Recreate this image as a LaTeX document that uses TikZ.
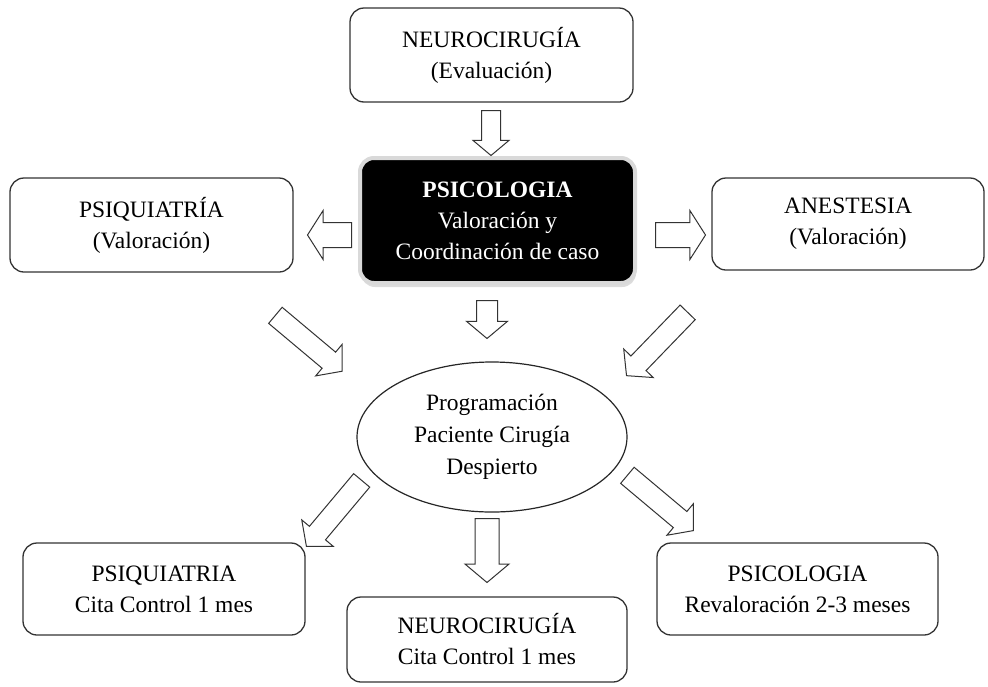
\documentclass[tikz,border=0pt]{standalone}
\usepackage{fontspec}
\setmainfont{Liberation Serif}
\usepackage{tikz}
\usetikzlibrary{shapes,shapes.arrows,shadows}
\tikzstyle{caja}=[rectangle, draw=black!80, line width=1.3pt, rounded corners=14pt, fill=white,
text centered, align=center, inner sep=0pt, font=\fontsize{23.5}{31}\selectfont]
\tikzstyle{central}=[caja, fill=black, draw=gray!30, line width=4pt, text=white,
drop shadow={shadow xshift=1pt, shadow yshift=-4pt, fill=gray!55}]
\tikzstyle{programa}=[ellipse, draw=black!85, line width=1.2pt, fill=white, align=center,
inner sep=0pt, font=\fontsize{23.5}{32}\selectfont]
\tikzstyle{flecha}=[single arrow, draw=black!80, fill=white, line width=1pt, anchor=tail,
inner xsep=0pt, inner ysep=10pt, single arrow head extend=10pt, single arrow tip angle=100]

\begin{document}
\begin{tikzpicture}[x=1pt, y=-1pt]
            \useasboundingbox (0,0) rectangle (988,686);
            % cajas
            \node (neuro)[caja, minimum width=283pt, minimum height=94pt] at (491.5,55)
                {NEUROCIRUGÍA\\(Evaluación)};
            \node (psico)[central, minimum width=275pt, minimum height=125pt] at (497.5,220.5)
                {\textbf{PSICOLOGIA}\\Valoración y\\Coordinación de caso};
            \node (psiq)[caja, minimum width=283pt, minimum height=94pt] at (151.5,225)
                {PSIQUIATRÍA\\(Valoración)};
            \node (anest)[caja, minimum width=272pt, minimum height=92pt] at (848,224)
                {ANESTESIA\\(Valoración)};
            \node (prog)[programa, minimum width=270pt, minimum height=150pt] at (492,437)
                {Programación\\Paciente Cirugía\\Despierto};
            \node (psiqcita)[caja, minimum width=282pt, minimum height=92pt] at (164,589)
                {PSIQUIATRIA\\Cita Control 1 mes};
            \node (neurocita)[caja, minimum width=280pt, minimum height=85pt] at (487,639.5)
                {NEUROCIRUGÍA\\Cita Control 1 mes};
            \node (psicoreval)[caja, minimum width=281pt, minimum height=92pt] at (797.5,589)
                {PSICOLOGIA\\Revaloración 2-3 meses};
            % flechas
            \node (f1)[flecha, rotate=-90, minimum height=45pt, inner ysep=9pt,
                single arrow head extend=8.5pt] at (491,110) {};
            \node (f2)[flecha, rotate=180, minimum height=44pt, inner ysep=12pt,
                single arrow head extend=12pt, single arrow tip angle=115] at (352,235) {};
            \node (f3)[flecha, minimum height=50pt, inner ysep=12pt,
                single arrow head extend=12pt, single arrow tip angle=115] at (655,235) {};
            \node (f4)[flecha, rotate=-90, minimum height=38pt] at (487,300) {};
            \node (f5)[flecha, rotate=-40, minimum height=87pt] at (275,315) {};
            \node (f6)[flecha, rotate=-134, minimum height=88pt] at (688,312) {};
            \node (f7)[flecha, rotate=-130, minimum height=86pt] at (362,480) {};
            \node (f8)[flecha, rotate=-90, minimum height=64pt, inner ysep=11.5pt] at (487,518) {};
            \node (f9)[flecha, rotate=-40, minimum height=86pt] at (627,475) {};
        \end{tikzpicture}
\end{document}
